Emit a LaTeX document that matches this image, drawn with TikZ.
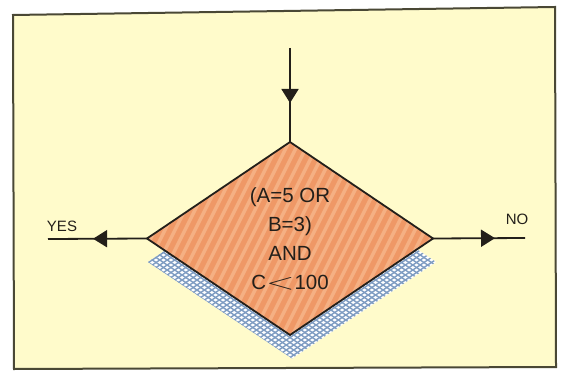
\documentclass[tikz,border=0pt]{standalone}
\usepackage{fontspec}
\setmainfont{Liberation Sans}
\usetikzlibrary{shapes.geometric,decorations.markings,arrows.meta}
\definecolor{bgyellow}{HTML}{FFFBCB}
\definecolor{framec}{HTML}{4A4835}
\definecolor{orangefill}{HTML}{EF9866}
\definecolor{orangestripe}{HTML}{F5B083}
\definecolor{meshc}{HTML}{7E9CC2}
\definecolor{inkc}{HTML}{231F1A}
\tikzset{
  decbox/.style={diamond, minimum width=286pt, minimum height=193pt, inner sep=0pt, outer sep=0pt,
    draw=inkc, line width=1.8pt, fill=orangefill, align=center, text=inkc,
    font=\fontsize{20.5}{29}\selectfont,
    path picture={\foreach \k in {-10,...,32}{\draw[orangestripe, line width=3.5pt] (-190+\k*10,161.5) -- ++(150,-300);}}},
  shadowbox/.style={diamond, minimum width=288pt, minimum height=193pt, inner sep=0pt, outer sep=0pt,
    fill=white,
    path picture={
      \foreach \y in {-60,-55,...,365}{\draw[meshc, line width=1.4pt] (-162,\y-262) -- ++(320,215);}
      \foreach \y in {160,165,...,580}{\draw[meshc, line width=1.4pt] (-162,\y-262) -- ++(320,-215);}}},
  conn/.style={draw=inkc, line width=1.8pt},
  midarrow/.style={postaction={decorate}, decoration={markings, mark=at position #1 with {\arrow{Triangle[length=14pt,width=17pt]}}}},
  lbl/.style={text=inkc, inner sep=0pt, font=\fontsize{15}{15}\selectfont}
}
\begin{document}
\begin{tikzpicture}[x=1pt,y=-1pt]
\useasboundingbox (0,0) rectangle (561,371);
\fill[white] (0,0) rectangle (561,371);
\draw[framec, line width=2pt, fill=bgyellow] (13,15) -- (555,7) -- (556,367) -- (14,369) -- cycle;
\node[shadowbox] (shadow) at (292,262) {};
\node[decbox] (dec) at (290,238.5) {(A=5 OR\\B=3)\\AND\\C\scalebox{1.8}[1.1]{$<$}100};
\coordinate (topstart) at (290,48);
\coordinate (yesend) at (48,239);
\coordinate (noend) at (525,238);
\draw[conn, midarrow=0.585] (topstart) -- (dec.north);
\draw[conn, midarrow=0.545] (dec.west) -- (yesend);
\draw[conn, midarrow=0.674] (dec.east) -- (noend);
\node[lbl] (yes) at (62,226) {YES};
\node[lbl] (no) at (517,219) {NO};
\end{tikzpicture}
\end{document}
